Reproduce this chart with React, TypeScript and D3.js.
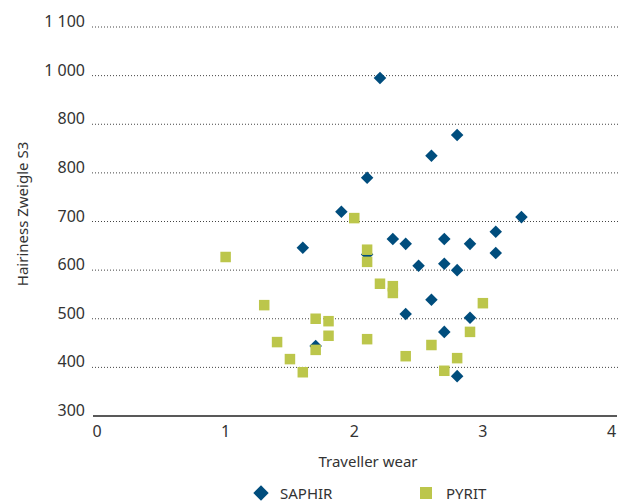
import React from "react";
import * as d3 from "d3";

const saphirX = [2.2, 2.8, 2.6, 2.1, 1.9, 3.3, 1.6, 2.1, 2.3, 2.4, 2.7, 2.9, 3.1, 3.1, 2.5, 2.7, 2.8, 2.6, 2.4, 2.9, 2.7, 1.7, 2.8];
const saphirY = [995, 878, 835, 790, 720, 709, 646, 632, 664, 654, 664, 654, 679, 635, 609, 613, 600, 539, 510, 502, 473, 444, 382];

const pyritX = [1.0, 1.3, 1.4, 1.5, 1.6, 1.7, 1.7, 1.8, 1.8, 2.0, 2.1, 2.1, 2.1, 2.2, 2.3, 2.3, 2.4, 2.6, 2.7, 2.8, 2.9, 3.0];
const pyritY = [627, 528, 452, 417, 390, 500, 436, 495, 465, 707, 642, 617, 458, 572, 567, 553, 423, 446, 393, 419, 473, 532];

const yTickValues = [300, 400, 500, 600, 700, 800, 900, 1000, 1100];
const yTickLabels = ["300", "400", "500", "600", "700", "800", "800", "1 000", "1 100"];
const xTickValues = [0, 1, 2, 3, 4];
const seriesNames = ["SAPHIR", "PYRIT"];

const BLUE = "#004d7d";
const GREEN = "#bcc64b";
const TEXT = "#333333";
const FONT = "'Noto Sans', 'Open Sans', sans-serif";

export default function App() {
  const x = d3.scaleLinear().domain([0, 4]).range([97, 611.5]);
  const y = d3.scaleLinear().domain([300, 1100]).range([416, 27]);
  const diamond = d3.symbol().type(d3.symbolDiamond2).size(100)();
  const legendDiamond = d3.symbol().type(d3.symbolDiamond2).size(150)();
  const sq = 10.5;
  const lsq = 12;

  return (
    <svg width={625} height={504} style={{ position: "absolute", left: 0, top: 0, background: "#fff" }} fontFamily={FONT}>
      {yTickValues.map((v, i) =>
        i === 0 ? null : (
          <line key={"g" + v} x1={92} x2={620} y1={y(v)} y2={y(v)} stroke="#444" strokeWidth={1} strokeDasharray="1 2" />
        )
      )}
      <line x1={93} x2={617} y1={y(300)} y2={y(300)} stroke="#222" strokeWidth={1.5} />
      {yTickValues.map((v, i) => (
        <text key={"yl" + v} x={85} y={y(v)} textAnchor="end" fontSize={16} fill={TEXT}>
          {yTickLabels[i]}
        </text>
      ))}
      {xTickValues.map((v) => (
        <text key={"xl" + v} x={x(v)} y={437} textAnchor="middle" fontSize={16} fill={TEXT}>
          {String(v)}
        </text>
      ))}
      <text x={368} y={467} textAnchor="middle" fontSize={15} fill={TEXT}>Traveller wear</text>
      <text transform={`translate(28,214) rotate(-90)`} textAnchor="middle" fontSize={15} fill={TEXT}>Hairiness Zweigle S3</text>

      {saphirX.map((xv, i) => (
        <path key={"s" + i} d={diamond || ""} transform={`translate(${x(xv)},${y(saphirY[i])})`} fill={BLUE} />
      ))}
      {pyritX.map((xv, i) => (
        <rect key={"p" + i} x={x(xv) - sq / 2} y={y(pyritY[i]) - sq / 2} width={sq} height={sq} fill={GREEN} />
      ))}

      <path d={legendDiamond || ""} transform="translate(261,493)" fill={BLUE} />
      <text x={280} y={499} fontSize={15} fill={TEXT}>{seriesNames[0]}</text>
      <rect x={426 - lsq / 2} y={493 - lsq / 2} width={lsq} height={lsq} fill={GREEN} />
      <text x={446} y={499} fontSize={15} fill={TEXT}>{seriesNames[1]}</text>
    </svg>
  );
}
